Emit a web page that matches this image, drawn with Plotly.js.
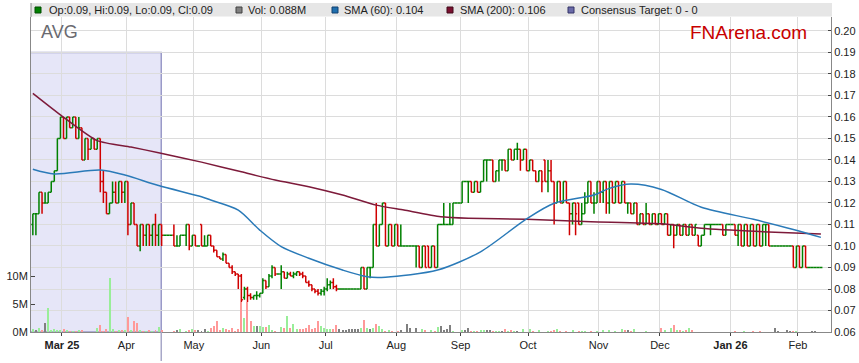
<!DOCTYPE html>
<html><head><meta charset="utf-8">
<script src="https://cdn.plot.ly/plotly-3.0.1.min.js"></script>
<style>html,body{margin:0;padding:0;background:#fff;}#chart{width:859px;height:363px;}</style>
</head><body><div id="chart"></div>
<script>
const dates = [
'2025-02-17','2025-02-18','2025-02-19','2025-02-20','2025-02-21',
'2025-02-24','2025-02-25','2025-02-26','2025-02-27','2025-02-28',
'2025-03-03','2025-03-04','2025-03-05','2025-03-06','2025-03-07',
'2025-03-10','2025-03-11','2025-03-12','2025-03-13','2025-03-14',
'2025-03-17','2025-03-18','2025-03-19','2025-03-20','2025-03-21',
'2025-03-24','2025-03-25','2025-03-26','2025-03-27','2025-03-28',
'2025-03-31','2025-04-01','2025-04-02','2025-04-03','2025-04-04',
'2025-04-07','2025-04-08','2025-04-09','2025-04-10','2025-04-11',
'2025-04-14','2025-04-15','2025-04-16','2025-04-17','2025-04-18',
'2025-04-21','2025-04-22','2025-04-23','2025-04-24','2025-04-25',
'2025-04-28','2025-04-29','2025-04-30','2025-05-01','2025-05-02',
'2025-05-05','2025-05-06','2025-05-07','2025-05-08','2025-05-09',
'2025-05-12','2025-05-13','2025-05-14','2025-05-15','2025-05-16',
'2025-05-19','2025-05-20','2025-05-21','2025-05-22','2025-05-23',
'2025-05-26','2025-05-27','2025-05-28','2025-05-29','2025-05-30',
'2025-06-02','2025-06-03','2025-06-04','2025-06-05','2025-06-06',
'2025-06-09','2025-06-10','2025-06-11','2025-06-12','2025-06-13',
'2025-06-16','2025-06-17','2025-06-18','2025-06-19','2025-06-20',
'2025-06-23','2025-06-24','2025-06-25','2025-06-26','2025-06-27',
'2025-06-30','2025-07-01','2025-07-02','2025-07-03','2025-07-04',
'2025-07-07','2025-07-08','2025-07-09','2025-07-10','2025-07-11',
'2025-07-14','2025-07-15','2025-07-16','2025-07-17','2025-07-18',
'2025-07-21','2025-07-22','2025-07-23','2025-07-24','2025-07-25',
'2025-07-28','2025-07-29','2025-07-30','2025-07-31','2025-08-01',
'2025-08-04','2025-08-05','2025-08-06','2025-08-07','2025-08-08',
'2025-08-11','2025-08-12','2025-08-13','2025-08-14','2025-08-15',
'2025-08-18','2025-08-19','2025-08-20','2025-08-21','2025-08-22',
'2025-08-25','2025-08-26','2025-08-27','2025-08-28','2025-08-29',
'2025-09-01','2025-09-02','2025-09-03','2025-09-04','2025-09-05',
'2025-09-08','2025-09-09','2025-09-10','2025-09-11','2025-09-12',
'2025-09-15','2025-09-16','2025-09-17','2025-09-18','2025-09-19',
'2025-09-22','2025-09-23','2025-09-24','2025-09-25','2025-09-26',
'2025-09-29','2025-09-30','2025-10-01','2025-10-02','2025-10-03',
'2025-10-06','2025-10-07','2025-10-08','2025-10-09','2025-10-10',
'2025-10-13','2025-10-14','2025-10-15','2025-10-16','2025-10-17',
'2025-10-20','2025-10-21','2025-10-22','2025-10-23','2025-10-24',
'2025-10-27','2025-10-28','2025-10-29','2025-10-30','2025-10-31',
'2025-11-03','2025-11-04','2025-11-05','2025-11-06','2025-11-07',
'2025-11-10','2025-11-11','2025-11-12','2025-11-13','2025-11-14',
'2025-11-17','2025-11-18','2025-11-19','2025-11-20','2025-11-21',
'2025-11-24','2025-11-25','2025-11-26','2025-11-27','2025-11-28',
'2025-12-01','2025-12-02','2025-12-03','2025-12-04','2025-12-05',
'2025-12-08','2025-12-09','2025-12-10','2025-12-11','2025-12-12',
'2025-12-15','2025-12-16','2025-12-17','2025-12-18','2025-12-19',
'2025-12-22','2025-12-23','2025-12-24','2025-12-25','2025-12-26',
'2025-12-29','2025-12-30','2025-12-31','2026-01-01','2026-01-02',
'2026-01-05','2026-01-06','2026-01-07','2026-01-08','2026-01-09',
'2026-01-12','2026-01-13','2026-01-14','2026-01-15','2026-01-16',
'2026-01-19','2026-01-20','2026-01-21','2026-01-22','2026-01-23',
'2026-01-26','2026-01-27','2026-01-28','2026-01-29','2026-01-30',
'2026-02-02','2026-02-03','2026-02-04','2026-02-05','2026-02-06',
'2026-02-09','2026-02-10','2026-02-11'];

const openP = [
.11,.115,.115,.125,.12, .12,.125,.13,.135,.15, .16,.15,.16,.155,.16, .15,.155,.14,.15,.145,
.15,.145,.15,.13,.125, .115,.12,.125,.12,.13, .125,.13,.11,.12,.11, .10,.11,.105,.11,.105,
.11,.105,.11,.105,.105, .105,.105,.10,.10,.105, .105,.11,.10,.105,.10, .11,.10,.10,.105,.10,
.098,.095,.094,.096,.092, .09,.088,.087,.086,.076, .08,.077,.076,.077,.077, .078,.084,.081,.086,.09,
.087,.087,.088,.085,.087, .086,.087,.088,.087,.086, .083,.082,.08,.079,.078, .079,.08,.082,.083,.081,
.08,.08,.08,.08,.08, .08,.08,.08,.09,.08, .09,.09,.11,.10,.11, .12,.10,.11,.10,.11,
.10,.10,.10,.10,.10, .10,.10,.09,.10,.10, .09,.10,.09,.11,.11, .11,.11,.11,.12,.12,
.12,.13,.13,.13,.125, .13,.125,.13,.14,.14, .14,.13,.135,.14,.14, .135,.145,.14,.145,.145,
.14,.145,.135,.14,.135, .13,.135,.14,.13,.135, .13,.12,.13,.12,.13, .12,.115,.12,.12,.11,
.115,.12,.13,.12,.12, .13,.125,.13,.12,.13, .12,.13,.12,.13,.12, .12,.115,.12,.11,.115,
.11,.115,.11,.115,.11, .115,.11,.115,.105,.11, .105,.11,.105,.11,.105, .11,.105,.105,.10,.105,
.11,.11,.11,.11,.11, .11,.105,.11,.11,.11, .105,.11,.10,.11,.10, .11,.10,.11,.10,.11,
.11,.10,.10,.10,.10, .10,.10,.10,.10,.09, .10,.09,.10,.09,.09, .09,.09,.09];

const highP = [
.115,.115,.125,.125,.125, .125,.13,.135,.15,.16, .16,.16,.16,.16,.16, .16,.155,.15,.15,.15,
.15,.15,.15,.135,.125, .12,.13,.13,.13,.13, .13,.13,.12,.12,.11, .11,.11,.11,.11,.11,
.115,.11,.11,.105,.105, .105,.11,.105,.105,.105, .11,.11,.105,.105,.10, .11,.105,.105,.105,.10,
.098,.095,.097,.096,.092, .091,.088,.087,.087,.081, .081,.078,.077,.079,.078, .085,.084,.087,.091,.09,
.087,.091,.088,.088,.088, .088,.088,.088,.088,.086, .084,.082,.08,.08,.08, .081,.085,.084,.085,.082,
.08,.08,.08,.08,.08, .08,.08,.09,.09,.09, .09,.11,.12,.11,.12, .12,.11,.11,.11,.11,
.11,.10,.10,.10,.10, .10,.10,.10,.10,.10, .10,.10,.11,.11,.12, .11,.12,.12,.12,.12,
.13,.13,.13,.13,.13, .13,.13,.14,.14,.14, .14,.135,.14,.14,.14, .145,.145,.145,.148,.145,
.145,.145,.14,.14,.135, .135,.135,.14,.14,.14, .13,.13,.13,.13,.13, .12,.12,.12,.12,.12,
.125,.13,.13,.125,.13, .13,.13,.13,.13,.13, .13,.13,.13,.13,.12, .12,.12,.12,.115,.115,
.12,.115,.115,.115,.115, .115,.115,.115,.11,.11, .11,.11,.11,.11,.11, .11,.11,.105,.105,.11,
.11,.11,.11,.11,.11, .11,.11,.11,.11,.11, .11,.11,.11,.11,.11, .11,.11,.11,.11,.11,
.11,.10,.10,.10,.10, .10,.10,.10,.10,.10, .10,.10,.10,.09,.09, .09,.09,.09];

const lowP = [
.105,.105,.115,.115,.12, .12,.125,.13,.135,.15, .15,.15,.155,.155,.15, .15,.14,.14,.14,.145,
.145,.145,.125,.12,.115, .115,.12,.12,.12,.12, .12,.105,.11,.11,.10, .0975,.10,.10,.10,.10,
.10,.10,.10,.105,.105, .105,.10,.10,.10,.105, .10,.098,.10,.10,.10, .10,.10,.10,.10,.097,
.095,.094,.093,.092,.09, .087,.086,.08,.074,.075, .074,.075,.075,.075,.076, .078,.08,.081,.085,.086,
.087,.08,.085,.085,.086, .085,.086,.086,.085,.083, .081,.079,.078,.077,.077, .077,.079,.08,.08,.079,
.08,.08,.08,.08,.08, .08,.08,.08,.08,.08, .085,.09,.10,.10,.11, .10,.10,.10,.10,.10,
.10,.10,.10,.10,.10, .09,.09,.09,.09,.09, .09,.09,.09,.11,.11, .11,.11,.11,.12,.12,
.12,.13,.12,.125,.125, .125,.125,.13,.13,.14, .13,.13,.13,.135,.135, .135,.14,.14,.14,.135,
.14,.135,.135,.135,.13, .13,.125,.13,.125,.13, .11,.12,.12,.12,.12, .105,.11,.105,.11,.11,
.115,.12,.12,.115,.12, .12,.12,.115,.115,.12, .12,.12,.12,.12,.115, .115,.115,.11,.11,.11,
.11,.11,.11,.11,.11, .11,.11,.105,.105,.099, .105,.105,.105,.105,.105, .105,.105,.10,.10,.105,
.11,.105,.11,.11,.11, .105,.105,.11,.11,.105, .10,.10,.10,.10,.10, .10,.10,.10,.10,.10,
.10,.10,.10,.10,.10, .10,.10,.10,.09,.09, .09,.09,.09,.09,.09, .09,.09,.09];

const closeP = [
.115,.115,.125,.12,.12, .125,.13,.135,.15,.16, .15,.16,.155,.16,.15, .155,.14,.15,.145,.15,
.145,.15,.13,.125,.115, .12,.125,.12,.13,.125, .13,.11,.12,.11,.10, .11,.105,.11,.105,.11,
.105,.11,.105,.105,.105, .105,.10,.10,.105,.105, .11,.10,.105,.10,.10, .10,.10,.105,.10,.098,
.095,.094,.096,.092,.09, .088,.087,.086,.075,.08, .077,.076,.077,.077,.078, .084,.081,.086,.09,.087,
.087,.088,.085,.087,.086, .087,.088,.087,.086,.083, .082,.08,.079,.078,.079, .08,.082,.083,.081,.08,
.08,.08,.08,.08,.08, .08,.08,.09,.08,.09, .09,.11,.10,.11,.12, .10,.11,.10,.11,.10,
.10,.10,.10,.10,.10, .10,.09,.10,.09,.09, .10,.09,.11,.11,.11, .11,.11,.12,.12,.12,
.13,.13,.13,.125,.13, .125,.13,.14,.14,.14, .13,.135,.14,.14,.135, .145,.14,.145,.145,.14,
.145,.135,.14,.135,.13, .135,.13,.13,.135,.13, .12,.13,.12,.13,.12, .115,.12,.115,.11,.115,
.12,.13,.12,.12,.13, .125,.13,.12,.13,.12, .13,.12,.13,.12,.12, .115,.12,.11,.115,.11,
.115,.11,.115,.11,.115, .11,.115,.105,.11,.105, .11,.105,.11,.105,.11, .105,.11,.10,.105,.11,
.11,.11,.11,.11,.11, .105,.11,.11,.11,.105, .11,.10,.11,.10,.11, .10,.11,.10,.11,.11,
.10,.10,.10,.10,.10, .10,.10,.10,.09,.10, .09,.10,.09,.09,.09, .09,.09,.09];

const volumeM = [
.54,.36,.7,.36,1.6, 4.3,.36,.5,.4,.36, .5,.3,.2,.12,.25, .36,.36,.05,.05,.05,
.05,.7,1.2,.25,.5, 9.7,.5,.25,.4,.36, .3,2.7,.3,2.0,1.6, .36,.2,.1,.3,.2,
.36,.9,.36,.05,0, 0,.2,.36,.5,0, .2,.36,.6,.3,.36, .2,.5,.25,.7,1.0,
1.9,.36,.8,.6,.4, .7,.25,.5,5.3,2.5, 5.3,1.9,1.0,1.0,1.1, .9,.9,1.3,.36,.1,
0,.9,.8,2.9,.8, 1.5,.5,.5,.5,.8, 1.3,.6,.7,2.0,1.1, .8,.6,.6,.5,1.2,
.5,.4,.4,.5,.6, .6,.6,.7,2.2,.7, .5,.8,1.4,1.0,.6, .2,.36,.2,.05,.1,
.3,.05,1.4,.7,.05, .8,.05,.5,.36,.05, .36,.12,.9,1.0,.36, .5,1.25,.2,.05,.05,
.36,.4,.65,.2,.2, .2,.36,.36,.4,.36, .2,.15,.15,.15,.5, .2,.3,.2,.15,.05,
.5,.05,.5,.2,.05, .36,.05,.05,.15,.2, .36,.5,.2,.05,.15, .05,.3,.05,.15,.15,
.2,.05,.15,.05,.15, .05,.36,.05,.36,.05, .15,.05,.5,.36,.3, .2,.5,.05,.05,.05,
.15,.05,.05,.05,.05, .7,.3,.05,.7,1.2, .36,.36,.2,.36,.7, .36,.05,.05,.05,.05,
.05,.05,.05,0,0, .05,.05,.05,0,.1, .05,.05,.1,.05,.05, .1,.05,.1,.05,.05,
.05,.05,.8,.2,.05, 0,.36,.2,.2,.1, .05,.05,.05,.05,.2, .2,.05,.088];

const sma60Dates = ['2025-02-17','2025-02-26','2025-03-19','2025-03-31','2025-04-15','2025-05-05','2025-05-08','2025-05-21','2025-05-30','2025-06-10','2025-06-23','2025-07-08','2025-07-18','2025-07-28','2025-08-20','2025-09-09','2025-09-30','2025-10-13','2025-10-30','2025-11-06','2025-11-17','2025-12-01','2025-12-18','2026-01-12','2026-01-29','2026-02-11'];
const sma60 = [.1357,.1335,.1353,.133,.1281,.1229,.1214,.1167,.1074,.0997,.0943,.0888,.0857,.0855,.0888,.0973,.1126,.1199,.1237,.1268,.1288,.1263,.118,.1124,.1077,.104];

const sma200Dates = ['2025-02-17','2025-02-28','2025-03-18','2025-04-02','2025-04-15','2025-05-05','2025-05-22','2025-06-06','2025-06-23','2025-07-08','2025-07-23','2025-08-05','2025-08-21','2025-09-03','2025-09-30','2025-10-29','2025-12-01','2025-12-18','2026-01-14','2026-02-11'];
const sma200 = [.171,.161,.149,.146,.1434,.139,.1345,.1307,.1276,.1237,.119,.1167,.1136,.1129,.1124,.1113,.1103,.1082,.1067,.1056];

const tickDates = ['2025-03-03','2025-04-01','2025-05-01','2025-06-02','2025-07-01','2025-08-01','2025-09-01','2025-10-01','2025-11-03','2025-12-01','2026-01-01','2026-02-02'];
const tickLabels = ['<b>Mar 25</b>','Apr','May','Jun','Jul','Aug','Sep','Oct','Nov','Dec','<b>Jan 26</b>','Feb'];

const priceTicks = [0.06,0.07,0.08,0.09,0.10,0.11,0.12,0.13,0.14,0.15,0.16,0.17,0.18,0.19,0.20];
const volTicks = [0, 5, 10];
const volTickLabels = ['0M','5M','10M'];

const consensusEnd = '2025-04-16 09:00';
const consensusTop = 0.19;

const noon = d => d + ' 12:00';
const xs = dates.map(noon);
const volColors = closeP.map((c, i) => {
  const prev = i === 0 ? openP[0] : closeP[i - 1];
  return c > prev ? '#99ee99' : (c < prev ? '#ff9999' : '#808080');
});

// split bars: green when close >= open, red when close < open
function ohlcSubset(keep, color) {
  const idx = closeP.map((c, i) => i).filter(i => keep(closeP[i], openP[i]));
  return { type: 'ohlc', x: idx.map(i => xs[i]), open: idx.map(i => openP[i]), high: idx.map(i => highP[i]),
    low: idx.map(i => lowP[i]), close: idx.map(i => closeP[i]), yaxis: 'y2', xaxis: 'x', tickwidth: 0.5,
    increasing: { line: { color: color, width: 1.5 } }, decreasing: { line: { color: color, width: 1.5 } }, hoverinfo: 'skip' };
}

const traces = [
  { type: 'bar', x: xs, y: volumeM.map(v => v * 1e6), yaxis: 'y',
    marker: { color: volColors, line: { width: 0 } }, width: 0.65 * 86400000, hoverinfo: 'skip' },
  ohlcSubset((c, o) => c >= o, '#008000'),
  ohlcSubset((c, o) => c < o, '#d00000'),
  { type: 'scatter', mode: 'lines', x: sma200Dates.map(noon), y: sma200, yaxis: 'y2',
    line: { color: '#7d1a3a', width: 1.5, shape: 'spline', smoothing: 0.6 }, hoverinfo: 'skip' },
  { type: 'scatter', mode: 'lines', x: sma60Dates.map(noon), y: sma60, yaxis: 'y2',
    line: { color: '#2a7ab8', width: 1.5, shape: 'spline', smoothing: 0.8 }, hoverinfo: 'skip' }
];

const P = px => (px - 31) / 800;
const Q = py => (332 - py) / 315;
const last = closeP.length - 1;
const f2 = v => v.toFixed(2);

const legendItems = [
  { sq: 35, tx: 48, color: '#008000', border: '#004d00', text: `Op:${f2(openP[last])}, Hi:${f2(highP[last])}, Lo:${f2(lowP[last])}, Cl:${f2(closeP[last])}` },
  { sq: 236, tx: 247, color: '#808080', border: '#404040', text: `Vol: ${volumeM[last].toFixed(3)}M` },
  { sq: 332, tx: 343, color: '#1f6fae', border: '#104070', text: `SMA (60): ${sma60[sma60.length-1].toFixed(3)}` },
  { sq: 447, tx: 459, color: '#7a1030', border: '#400818', text: `SMA (200): ${sma200[sma200.length-1].toFixed(3)}` },
  { sq: 568, tx: 580, color: '#6a6aa8', border: '#333366', text: 'Consensus Target: 0 - 0' }
];

const shapes = [
  { type: 'rect', xref: 'x', yref: 'y2', layer: 'below', x0: '2025-02-10', x1: consensusEnd, y0: 0.06, y1: consensusTop,
    fillcolor: '#e6e6f8', line: { color: '#9a9ac8', width: 1.5 } },
  { type: 'line', xref: 'x', yref: 'paper', x0: consensusEnd, x1: consensusEnd, y0: -0.092, y1: 0,
    line: { color: '#a8a8c8', width: 1.5 } },
  { type: 'rect', xref: 'paper', yref: 'paper', x0: 0, x1: P(832), y0: Q(16.5), y1: Q(3),
    fillcolor: '#e6e6e6', line: { width: 0 } },
  { type: 'line', xref: 'paper', yref: 'paper', x0: 0, x1: 0, y0: 1, y1: Q(3), line: { color: '#888', width: 1 } }
];
legendItems.forEach(it => shapes.push({ type: 'rect', xref: 'paper', yref: 'paper',
  x0: P(it.sq), x1: P(it.sq + 6), y0: Q(13), y1: Q(7), fillcolor: it.color, line: { color: it.border, width: 1 } }));

const annotations = legendItems.map(it => ({ xref: 'paper', yref: 'paper', x: P(it.tx), y: Q(10), xanchor: 'left', yanchor: 'middle',
  text: it.text, showarrow: false, font: { size: 11, color: '#222' }, borderpad: 0 }));
annotations.push({ xref: 'paper', yref: 'paper', x: P(40), y: Q(32), xanchor: 'left', yanchor: 'middle', text: 'AVG',
  showarrow: false, font: { size: 18, color: '#6a6a70' }, borderpad: 0 });
annotations.push({ xref: 'paper', yref: 'paper', x: P(808), y: Q(32), xanchor: 'right', yanchor: 'middle', text: 'FNArena.com',
  showarrow: false, font: { size: 19, color: '#c80000' }, borderpad: 0 });

const layout = {
  width: 859, height: 363, margin: { l: 31, r: 28, t: 17, b: 31, pad: 0 },
  paper_bgcolor: '#ffffff', plot_bgcolor: '#ffffff', showlegend: false, bargap: 0,
  font: { family: 'Liberation Sans, Arial, sans-serif', size: 11, color: '#222' },
  xaxis: { type: 'date', range: ['2025-02-14 21:36', '2026-02-16 19:00'], rangebreaks: [{ bounds: ['sat', 'mon'] }],
    tickmode: 'array', tickvals: tickDates, ticktext: tickLabels, ticks: 'outside', ticklen: 3, tickcolor: '#444',
    showgrid: true, gridcolor: '#dcdcdc', gridwidth: 1, showline: true, linecolor: '#888', linewidth: 1,
    rangeslider: { visible: false }, tickfont: { size: 11, color: '#222' }, fixedrange: true },
  yaxis: { range: [0, 56.25e6], side: 'left', tickmode: 'array', tickvals: volTicks.map(v => v * 1e6), ticktext: volTickLabels,
    ticks: 'inside', ticklen: 4, tickcolor: '#444', showgrid: false, zeroline: false, showline: true, linecolor: '#888',
    tickfont: { size: 11, color: '#222' }, fixedrange: true },
  yaxis2: { overlaying: 'y', side: 'right', range: [0.06, 0.2065], tickmode: 'array', tickvals: priceTicks,
    ticktext: priceTicks.map(v => v.toFixed(2)), ticks: 'inside', ticklen: 3, tickcolor: '#444',
    showgrid: true, gridcolor: '#dcdcdc', zeroline: false, showline: true, linecolor: '#888',
    tickfont: { size: 11, color: '#222' }, fixedrange: true },
  shapes: shapes, annotations: annotations
};

Plotly.newPlot('chart', traces, layout, { displayModeBar: false, staticPlot: true });
</script></body></html>
